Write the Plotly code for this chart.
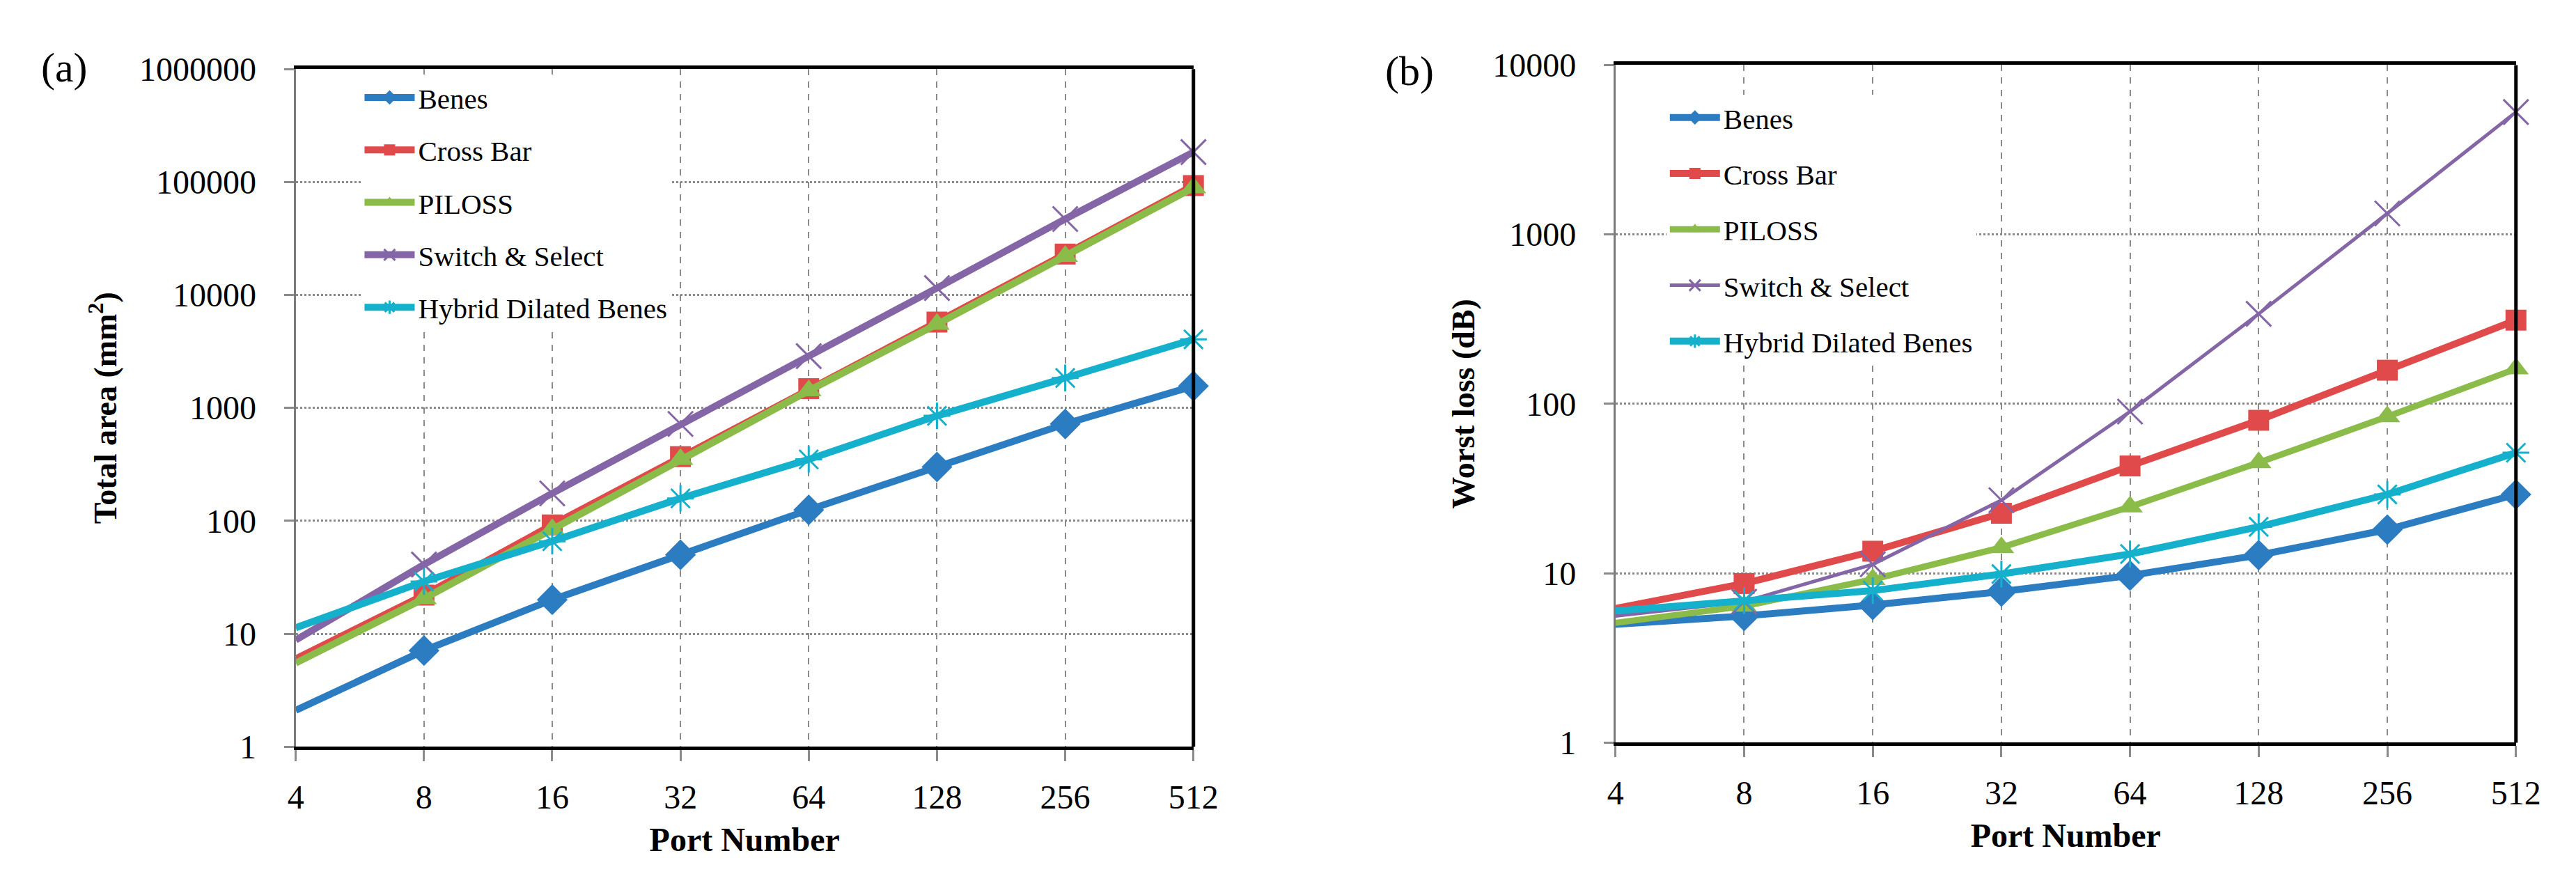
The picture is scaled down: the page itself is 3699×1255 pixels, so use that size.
import plotly.graph_objects as go

ports = [4, 8, 16, 32, 64, 128, 256, 512]
port_labels = ["4", "8", "16", "32", "64", "128", "256", "512"]

names = ["Benes", "Cross Bar", "PILOSS", "Switch & Select", "Hybrid Dilated Benes"]

# (a) total area, mm^2
area_benes = [2.1, 7.1, 20, 50, 125, 300, 720, 1560]
area_crossbar = [6.0, 22, 92, 370, 1480, 5750, 23000, 93000]
area_piloss = [5.5, 20.5, 84, 350, 1420, 5500, 22000, 89000]
area_switch_select = [8.8, 41, 175, 720, 2870, 11500, 47000, 184000]
area_hdb = [11.3, 29, 66, 158, 350, 850, 1840, 4040]

# (b) worst loss, dB
loss_benes = [5.0, 5.6, 6.5, 7.8, 9.7, 12.8, 18.1, 29.2]
loss_crossbar = [6.2, 8.7, 13.5, 22.6, 43, 80, 158, 312]
loss_piloss = [5.1, 6.4, 9.2, 14.2, 24.7, 45, 84, 161]
loss_switch_select = [5.6, 6.8, 11.3, 27, 90, 340, 1330, 5280]
loss_hdb = [6.0, 6.9, 7.9, 9.9, 13.0, 18.8, 29.2, 51.5]

area_ticks = [1, 10, 100, 1000, 10000, 100000, 1000000]
area_ticktext = ["1", "10", "100", "1000", "10000", "100000", "1000000"]
loss_ticks = [1, 10, 100, 1000, 10000]
loss_ticktext = ["1", "10", "100", "1000", "10000"]

colors = ["#2B7CC0", "#E04A4A", "#8BBB48", "#8466A6", "#15B0CC"]
symbols = ["diamond", "square", "triangle-up", "x-thin", "asterisk"]
msizes = [34, 30, 32, 36, 32]

FONT = "Liberation Serif"
W, H = 3699, 1255

fig = go.Figure()

area_sets = [area_benes, area_crossbar, area_piloss, area_switch_select, area_hdb]
loss_sets = [loss_benes, loss_crossbar, loss_piloss, loss_switch_select, loss_hdb]
loss_widths = [10, 10, 9, 5, 10]

for panel, sets, widths in [(1, area_sets, [10] * 5), (2, loss_sets, loss_widths)]:
    for i, vals in enumerate(sets):
        open_marker = symbols[i] in ("x-thin", "asterisk")
        fig.add_trace(
            go.Scatter(
                x=ports,
                y=vals,
                mode="lines+markers",
                name=names[i],
                line=dict(color=colors[i], width=widths[i]),
                marker=dict(
                    symbol=symbols[i],
                    size=msizes[i],
                    color=colors[i],
                    line=dict(color=colors[i], width=3 if open_marker else 0),
                ),
                cliponaxis=False,
                xaxis="x" if panel == 1 else "x2",
                yaxis="y" if panel == 1 else "y2",
                legend="legend" if panel == 1 else "legend2",
                legendgroup="p%d_%d" % (panel, i),
            )
        )

ydom1 = [(H - 1084) / H, (H - 68) / H]
ydom2 = [(H - 1078) / H, (H - 62) / H]
xdom1 = [410 / W, 1716 / W]
xdom2 = [2330 / W, 3640 / W]

xcommon = dict(
    type="log",
    range=[0.60206, 2.70927],
    tickvals=ports,
    ticktext=port_labels,
    showgrid=True,
    gridcolor="#8a8a8a",
    gridwidth=2,
    griddash="dash",
    showline=True,
    linecolor="black",
    linewidth=5,
    mirror=True,
    ticks="outside",
    ticklen=16,
    tickwidth=3,
    tickcolor="#8a8a8a",
    tickfont=dict(family=FONT, size=48, color="black"),
    ticklabelstandoff=10,
    zeroline=False,
    title=dict(text="<b>Port Number</b>", font=dict(family=FONT, size=48, color="black"), standoff=20),
)

ycommon = dict(
    type="log",
    showgrid=True,
    gridcolor="#8a8a8a",
    gridwidth=3,
    griddash="dot",
    showline=True,
    linecolor="#7a7a7a",
    linewidth=3,
    ticks="outside",
    ticklen=14,
    tickwidth=3,
    tickcolor="#8a8a8a",
    tickfont=dict(family=FONT, size=48, color="black"),
    ticklabelstandoff=30,
    zeroline=False,
)

legend_font = dict(family=FONT, size=41, color="black")

fig.update_layout(
    width=W,
    height=H,
    margin=dict(l=0, r=0, t=0, b=0),
    paper_bgcolor="white",
    plot_bgcolor="white",
    font=dict(family=FONT, color="black"),
    xaxis=dict(xcommon, domain=xdom1, anchor="y"),
    yaxis=dict(
        ycommon,
        domain=ydom1,
        anchor="x",
        range=[0, 6],
        tickvals=area_ticks,
        ticktext=area_ticktext,
        title=dict(text="<b>Total area (mm<sup>2</sup>)</b>", font=dict(family=FONT, size=46, color="black"), standoff=18),
    ),
    xaxis2=dict(xcommon, domain=xdom2, anchor="y2"),
    yaxis2=dict(
        ycommon,
        domain=ydom2,
        anchor="x2",
        range=[0, 4],
        tickvals=loss_ticks,
        ticktext=loss_ticktext,
        title=dict(text="<b>Worst loss (dB)</b>", font=dict(family=FONT, size=46, color="black"), standoff=12),
    ),
    legend=dict(
        bgcolor="white", borderwidth=0, font=legend_font, xanchor="left", yanchor="top",
        tracegroupgap=19, itemsizing="trace", itemwidth=72,
        x=505 / W, y=(H - 76) / H,
    ),
    legend2=dict(
        bgcolor="white", borderwidth=0, font=legend_font, xanchor="left", yanchor="top",
        tracegroupgap=24, itemsizing="trace", itemwidth=72,
        x=2404 / W, y=(H - 106) / H,
    ),
    annotations=[
        dict(text="(a)", x=73 / W, y=(H - 66) / H, xref="paper", yref="paper", showarrow=False,
             xanchor="center", yanchor="middle",
             font=dict(family=FONT, size=60, color="black")),
        dict(text="(b)", x=2030 / W, y=(H - 71) / H, xref="paper", yref="paper", showarrow=False,
             xanchor="center", yanchor="middle",
             font=dict(family=FONT, size=60, color="black")),
    ],
    shapes=[
        dict(type="line", xref="x domain", yref="y domain", x0=1, x1=1, y0=0, y1=1,
             line=dict(color="black", width=5)),
        dict(type="line", xref="x2 domain", yref="y2 domain", x0=1, x1=1, y0=0, y1=1,
             line=dict(color="black", width=5)),
    ],
)

fig.write_html("out.html")
